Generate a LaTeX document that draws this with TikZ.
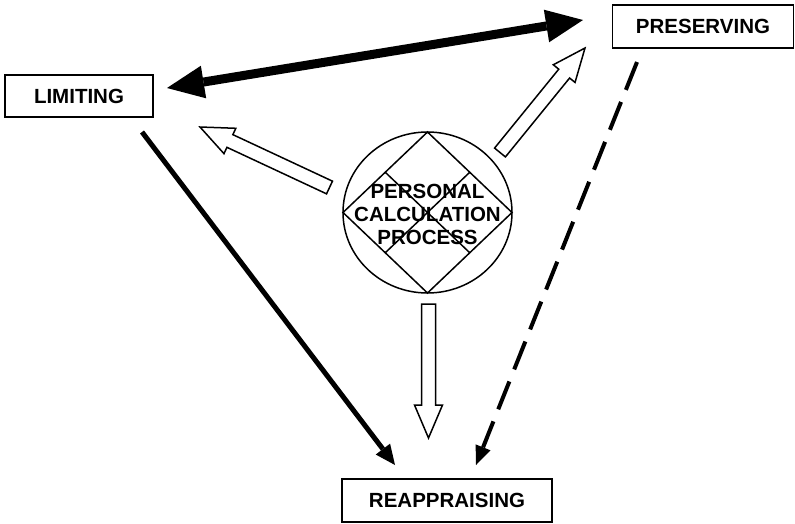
\documentclass[tikz,border=0pt]{standalone}
\usepackage{fontspec}
\setmainfont{Liberation Sans}
\usetikzlibrary{shapes.geometric,arrows.meta,calc}
\tikzset{
  labelbox/.style={draw, line width=1.5pt, inner sep=0pt, outer sep=0pt, font=\bfseries\fontsize{20.5}{23}\selectfont},
  blockarr/.style={draw, fill=white, line width=1.5pt, line join=miter},
  bigtip/.tip={Triangle[length=37pt,width=33pt,line width=0pt]},
}
\newcommand\blockarrow[2]{%
  \path[blockarr] ($(#1)!7pt!90:(#2)$) -- ($(#2)!33pt!(#1)!7pt!90:(#2)$) -- ($(#2)!33pt!(#1)!14pt!90:(#2)$)
   -- (#2) -- ($(#2)!33pt!(#1)!14pt!-90:(#2)$) -- ($(#2)!33pt!(#1)!7pt!-90:(#2)$) -- ($(#1)!7pt!-90:(#2)$) -- cycle;}
\begin{document}
\begin{tikzpicture}[x=1pt,y=-1pt]
\useasboundingbox (0,0) rectangle (795,523);
% boxes
\node[labelbox, minimum width=148, minimum height=42] (lim) at (79,96) {LIMITING};
\node[labelbox, minimum width=181, minimum height=43] (pres) at (703,26.5) {PRESERVING};
\node[labelbox, minimum width=210, minimum height=43] (reap) at (447,500.5) {REAPPRAISING};
% central symbol
\node[ellipse, draw, line width=1.5pt, minimum width=169, minimum height=161, inner sep=0pt, outer sep=0pt] (pcp) at (427.5,212.5) {};
\draw[line width=1.5pt, line join=miter] (pcp.north) -- (pcp.east) -- (pcp.south) -- (pcp.west) -- cycle;
\draw[line width=1.5pt] ($(pcp.north)!0.5!(pcp.west)$) -- ($(pcp.east)!0.5!(pcp.south)$);
\draw[line width=1.5pt] ($(pcp.north)!0.5!(pcp.east)$) -- ($(pcp.west)!0.5!(pcp.south)$);
\node[align=center, font=\bfseries\fontsize{20.5}{23}\selectfont, inner sep=0pt] (pcptext) at (427.5,214) {PERSONAL\\CALCULATION\\PROCESS};
% block arrows
\coordinate (bLt) at (329.5,187.5); \coordinate (bLh) at (200,127);
\coordinate (bRt) at (500,152.5);   \coordinate (bRh) at (585,48);
\coordinate (bDt) at (428.5,304);   \coordinate (bDh) at (428.5,438);
\blockarrow{bLt}{bLh}
\blockarrow{bRt}{bRh}
\blockarrow{bDt}{bDh}
% thick double arrow
\coordinate (tA) at (167,88); \coordinate (tB) at (583,20);
\draw[line width=9pt, {bigtip}-{bigtip}] (tA) -- (tB);
% solid diagonal
\coordinate (sA) at (142,132); \coordinate (sB) at (395,465);
\draw[line width=5pt, -{Triangle[length=20pt,width=18pt,line width=0pt]}] (sA) -- (sB);
% dashed
\coordinate (dA) at (637,62); \coordinate (dB) at (476,465);
\draw[line width=4pt, dash pattern=on 30pt off 13pt, -{Triangle[length=19pt,width=16pt,line width=0pt]}] (dA) -- (dB);
\end{tikzpicture}
\end{document}
